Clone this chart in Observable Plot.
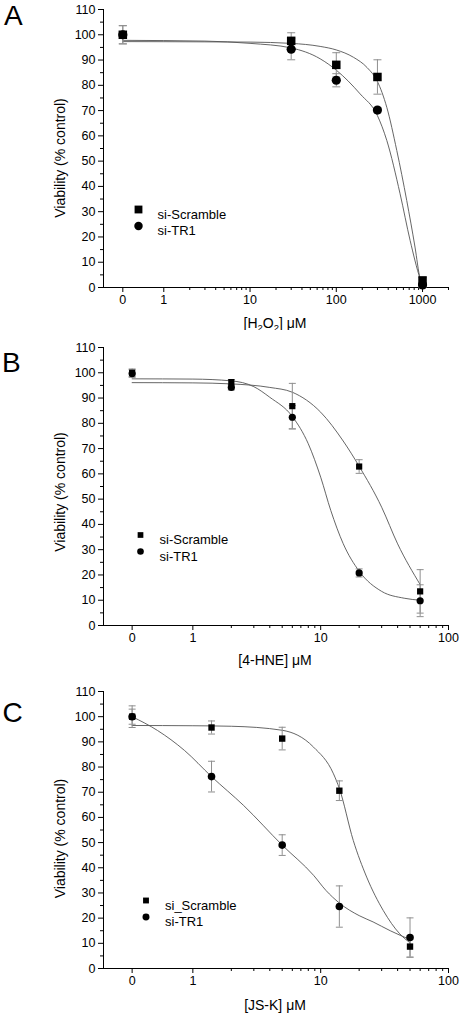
<!DOCTYPE html>
<html><head><meta charset="utf-8">
<script src="https://cdn.jsdelivr.net/npm/d3@7"></script>
<script src="https://cdn.jsdelivr.net/npm/@observablehq/plot@0.6"></script>
<style>
body{margin:0;background:#fff;font-family:"Liberation Sans",Arial,sans-serif;}
#wrap{position:relative;width:462px;height:1017px;overflow:hidden;background:#fff;}
</style></head><body><div id="wrap"></div>
<script>
// ---------- data ----------
const zeroAt = 0.335; // drawing position of the "0" concentration on the log axis
const yTickValues = [0, 10, 20, 30, 40, 50, 60, 70, 80, 90, 100, 110];
const yMinorTicks = [5, 15, 25, 35, 45, 55, 65, 75, 85, 95, 105];
const xTicksA = [0, 1, 10, 100, 1000];
const xMinorA = [2,3,4,5,6,7,8,9,20,30,40,50,60,70,80,90,200,300,400,500,600,700,800,900,2000];
const xTicksBC = [0, 1, 10, 100];
const xMinorBC = [2,3,4,5,6,7,8,9,20,30,40,50,60,70,80,90];
const legendAB = ["si-Scramble", "si-TR1"];
const legendC = ["si_Scramble", "si-TR1"];

// Panel A: H2O2
const aConc = [0, 30, 100, 300, 1000];
const aScramble = [100, 97.6, 88.1, 83.3, 2.8];
const aScrambleErr = [3.6, 3.2, 4.8, 6.8, 1.2];
const aTR1 = [100, 94.3, 82.0, 70.2, 1.0];
const aTR1Err = [3.6, 4.2, 2.6, 1.0, 1.0];
const aFitScrambleX = [0, 3, 10, 30, 65, 100, 158, 228, 300, 385, 503, 656, 818, 935, 1000];
const aFitScrambleY = [97.3, 97.2, 97.1, 96.6, 95.4, 94.0, 91.1, 87.0, 81.5, 71.3, 54.2, 34.4, 16.0, 3.6, 0.8];
const aFitTR1X = [0, 3, 10, 30, 65, 100, 189, 300, 385, 549, 718, 935, 1000];
const aFitTR1Y = [97.8, 97.5, 96.6, 94.8, 90.5, 86.0, 76.6, 68.0, 58.2, 37.1, 18.6, 3.6, 0.8];

// Panel B: 4-HNE
const bConc = [0, 2, 6, 20, 60];
const bScramble = [100, 96.3, 86.8, 62.9, 13.5];
const bScrambleErr = [1.5, 1.0, 9.0, 2.7, 8.6];
const bTR1 = [99.7, 94.2, 82.4, 20.8, 9.8];
const bTR1Err = [1.5, 1.0, 4.6, 1.6, 6.3];
const bFitScrambleX = [0, 1, 2, 4, 6, 10, 15, 20, 30, 40, 60];
const bFitScrambleY = [96.1, 96.0, 95.6, 94.2, 92.3, 84.4, 73.0, 63.0, 46.8, 32.3, 16.2];
const bFitTR1X = [0, 1, 2, 3, 4, 6, 8, 10, 12, 15, 20, 30, 45, 60];
const bFitTR1Y = [97.6, 97.5, 96.8, 94.5, 90.3, 82.7, 71.9, 58.7, 45.5, 32.4, 21.5, 13.5, 10.8, 10.0];

// Panel C: JS-K
const cConc = [0, 1.4, 5, 14, 50];
const cScramble = [100, 95.7, 91.3, 70.6, 8.7];
const cScrambleErr = [3.0, 2.6, 4.5, 3.9, 4.2];
const cTR1 = [100, 76.2, 49.0, 24.6, 12.3];
const cTR1Err = [4.3, 6.1, 4.1, 8.2, 7.8];
const cFitScrambleX = [0, 1, 2, 5, 8.8, 12.6, 14, 18, 22.9, 30.9, 41.5, 50];
const cFitScrambleY = [96.5, 96.4, 96.2, 94.6, 87.9, 77.3, 71.5, 50.8, 36.3, 23.0, 13.8, 10.2];
const cFitTR1X = [0, 0.53, 0.86, 1.4, 2.5, 5, 8.8, 11, 14, 20, 25.7, 35, 50];
const cFitTR1Y = [100, 94.5, 86.6, 76.2, 64.7, 49.0, 37.0, 31.0, 26.0, 21.0, 18.5, 15.0, 11.5];

// ---------- drawing ----------
const FONT = '"Liberation Sans", Arial, sans-serif';
const xs = v => (v === 0 ? zeroAt : v);
const cap = {draw(ctx, size) { const w = Math.sqrt(size / Math.PI); ctx.moveTo(-w, 0); ctx.lineTo(w, 0); }};

function panel(o) {
  const pts = (conc, vals, errs) => conc.map((c, i) => ({x: xs(c), y: vals[i], e: errs[i]}));
  const fit = (X, Y) => X.map((x, i) => ({x: xs(x), y: Y[i]}));
  const scr = pts(o.conc, o.scr, o.scrErr);
  const tr = pts(o.conc, o.tr, o.trErr);
  const errMarks = data => [
    Plot.ruleX(data, {x: "x", y1: d => d.y - d.e, y2: d => d.y + d.e, stroke: "#8f8f8f", strokeWidth: 1}),
    Plot.dot(data, {x: "x", y: d => d.y + d.e, symbol: cap, r: o.capR, stroke: "#8f8f8f", fill: "none", strokeWidth: 1}),
    Plot.dot(data, {x: "x", y: d => d.y - d.e, symbol: cap, r: o.capR, stroke: "#8f8f8f", fill: "none", strokeWidth: 1})
  ];
  const sqMark = Plot.dot(scr, {x: "x", y: "y", symbol: "square", r: o.sqR, fill: "black", stroke: "none"});
  const ciMark = Plot.dot(tr, {x: "x", y: "y", symbol: "circle", r: o.ciR, fill: "black", stroke: "none"});
  const tickData = o.xTicks.map(v => ({v: xs(v), label: String(v)}));
  const svg = Plot.plot({
    width: 462, height: o.height,
    marginLeft: 103, marginRight: 14, marginTop: o.mt, marginBottom: o.mb,
    x: {type: "log", domain: o.xDomain},
    y: {type: "linear", domain: [0, 110]},
    style: {fontFamily: FONT, fontSize: "12.5px", color: "black", background: "white", overflow: "visible"},
    marks: [
      Plot.axisY(yTickValues, {tickSize: 5, tickPadding: 3, label: null}),
      Plot.axisY(yMinorTicks, {tickSize: 3, tickFormat: () => "", label: null}),
      Plot.axisX(tickData.map(d => d.v), {tickSize: 5, tickFormat: () => "", label: null}),
      Plot.text(tickData, {x: "v", frameAnchor: "bottom", dy: 16, text: "label", fontSize: 12.5, fill: "black"}),
      Plot.axisX(o.xMinor, {tickSize: 3, tickFormat: () => "", label: null}),
      Plot.ruleY([0], {stroke: "black", strokeWidth: 1}),
      Plot.ruleX([o.xDomain[0]], {stroke: "black", strokeWidth: 1}),
      Plot.line(fit(o.fsX, o.fsY), {x: "x", y: "y", curve: "monotone-x", stroke: "#555", strokeWidth: 0.9}),
      Plot.line(fit(o.ftX, o.ftY), {x: "x", y: "y", curve: "monotone-x", stroke: "#555", strokeWidth: 0.9}),
      ...errMarks(scr), ...errMarks(tr),
      ...(o.squaresOnTop ? [ciMark, sqMark] : [sqMark, ciMark]),
      // legend
      Plot.dot([o.legend[0]], {frameAnchor: "top-left", dx: o.lx, dy: o.ly1, symbol: "square", r: o.sqR * 0.92, fill: "black"}),
      Plot.dot([o.legend[1]], {frameAnchor: "top-left", dx: o.lx, dy: o.ly2, symbol: "circle", r: o.ciR * 0.92, fill: "black"}),
      Plot.text([o.legend[0]], {frameAnchor: "top-left", dx: o.lx + 19, dy: o.ly1, text: d => d, textAnchor: "start", fontSize: 13}),
      Plot.text([o.legend[1]], {frameAnchor: "top-left", dx: o.lx + 19, dy: o.ly2, text: d => d, textAnchor: "start", fontSize: 13})
    ]
  });
  svg.style.position = "absolute";
  svg.style.left = "0px";
  svg.style.top = o.top + "px";
  svg.style.overflow = "visible";
  const s = d3.select(svg);
  // panel letter
  s.append("text").attr("x", o.letterX).attr("y", o.letterY).attr("font-size", 28).attr("text-anchor", "start")
    .attr("font-family", FONT).attr("fill", "black").text(o.letter);
  // y title
  s.append("text").attr("transform", `translate(65,${o.yTitleY}) rotate(-90)`).attr("text-anchor", "middle")
    .attr("font-size", 14).attr("font-family", FONT).attr("fill", "black").text("Viability (% control)");
  // x title
  const t = s.append("text").attr("x", 275).attr("y", o.xTitleY).attr("text-anchor", "middle")
    .attr("font-size", 14).attr("font-family", FONT).attr("fill", "black");
  let prevSub = false;
  o.xTitle.forEach(([str, sub]) => {
    const ts = t.append("tspan").text(str);
    if (sub) ts.attr("font-size", 9.5).attr("dy", 3);
    else if (prevSub) ts.attr("dy", -3);
    prevSub = !!sub;
  });
  document.getElementById("wrap").appendChild(svg);
}

panel({
  top: 0, height: 330, mt: 9, mb: 43, xDomain: [0.2, 2000], xTicks: xTicksA, xMinor: xMinorA,
  conc: aConc, scr: aScramble, scrErr: aScrambleErr, tr: aTR1, trErr: aTR1Err,
  fsX: aFitScrambleX, fsY: aFitScrambleY, ftX: aFitTR1X, ftY: aFitTR1Y,
  sqR: 4.8, ciR: 4.6, capR: 4, squaresOnTop: true,
  legend: legendAB, lx: 35, ly1: 200, ly2: 216.5,
  letter: "A", letterX: 4, letterY: 25, yTitleY: 158, xTitleY: 328,
  xTitle: [["[H"], ["2", true], ["O"], ["2", true], ["] μM"]]
});
panel({
  top: 330, height: 340, mt: 17, mb: 45, xDomain: [0.2, 100], xTicks: xTicksBC, xMinor: xMinorBC,
  conc: bConc, scr: bScramble, scrErr: bScrambleErr, tr: bTR1, trErr: bTR1Err,
  fsX: bFitScrambleX, fsY: bFitScrambleY, ftX: bFitTR1X, ftY: bFitTR1Y,
  sqR: 3.5, ciR: 3.6, capR: 3.5, squaresOnTop: false,
  legend: legendAB, lx: 37, ly1: 187.5, ly2: 204,
  letter: "B", letterX: 2, letterY: 41.5, yTitleY: 162, xTitleY: 335,
  xTitle: [["[4-HNE] μM"]]
});
panel({
  top: 670, height: 347, mt: 21, mb: 49, xDomain: [0.2, 100], xTicks: xTicksBC, xMinor: xMinorBC,
  conc: cConc, scr: cScramble, scrErr: cScrambleErr, tr: cTR1, trErr: cTR1Err,
  fsX: cFitScrambleX, fsY: cFitScrambleY, ftX: cFitTR1X, ftY: cFitTR1Y,
  sqR: 3.6, ciR: 3.8, capR: 3.5, squaresOnTop: false,
  legend: legendC, lx: 42.5, ly1: 209, ly2: 225.5,
  letter: "C", letterX: 2.5, letterY: 52, yTitleY: 168.5, xTitleY: 340,
  xTitle: [["[JS-K] μM"]]
});
</script></body></html>
